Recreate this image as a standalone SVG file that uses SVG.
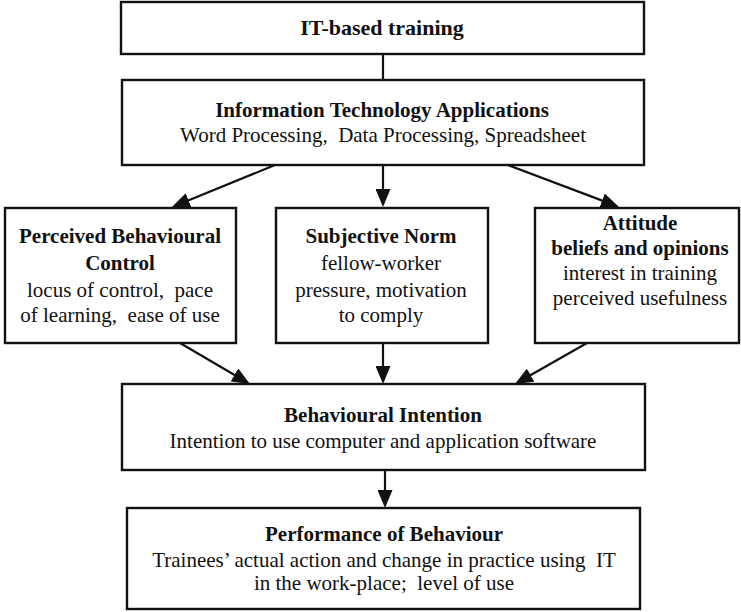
<svg xmlns="http://www.w3.org/2000/svg" width="741" height="612" viewBox="0 0 741 612">
<defs>
<style>
.box{fill:#fff;stroke:#111;stroke-width:2.4}
.ln{stroke:#111;stroke-width:2.2;fill:none}
.arr{marker-end:url(#ah)}
text{font-family:"Liberation Serif","Times New Roman",serif;font-size:21px;fill:#111;text-anchor:middle;white-space:pre}
.b{font-weight:bold}
</style>
<marker id="ah" markerUnits="userSpaceOnUse" markerWidth="18" markerHeight="15" refX="15" refY="7.5" orient="auto">
<path d="M0,0 L18,7.5 L0,15 z" fill="#111"/>
</marker>
</defs>
<rect width="741" height="612" fill="#fff"/>
<g id="connectors">
<line class="ln" x1="383" y1="54" x2="383" y2="80"/>
<line class="ln arr" x1="275" y1="165" x2="174.7" y2="205.9"/>
<line class="ln arr" x1="383" y1="165" x2="383" y2="204"/>
<line class="ln arr" x1="508" y1="165" x2="616.2" y2="205.9"/>
<line class="ln arr" x1="180" y1="343" x2="247.4" y2="382.5"/>
<line class="ln arr" x1="383" y1="343" x2="383" y2="381"/>
<line class="ln arr" x1="587" y1="343" x2="517.6" y2="382.5"/>
<line class="ln arr" x1="385" y1="470" x2="385" y2="505"/>
</g>
<g id="it-training">
<rect class="box" x="121" y="2" width="523" height="52"/>
<text class="b" x="382" y="35" style="font-size:22px">IT-based training</text>
</g>
<g id="it-applications">
<rect class="box" x="122" y="80" width="522" height="85"/>
<text class="b" x="382" y="117">Information Technology Applications</text>
<text x="383" y="142" xml:space="preserve">Word Processing,  Data Processing, Spreadsheet</text>
</g>
<g id="perceived-control">
<rect class="box" x="5" y="208" width="231" height="135"/>
<text class="b" x="120" y="243">Perceived Behavioural</text>
<text class="b" x="120" y="270">Control</text>
<text x="120" y="297" xml:space="preserve">locus of control,  pace</text>
<text x="120" y="322" xml:space="preserve">of learning,  ease of use</text>
</g>
<g id="subjective-norm">
<rect class="box" x="276" y="208" width="212" height="135"/>
<text class="b" x="381" y="243">Subjective Norm</text>
<text x="381" y="270">fellow-worker</text>
<text x="381" y="297">pressure, motivation</text>
<text x="381" y="322">to comply</text>
</g>
<g id="attitude">
<rect class="box" x="535" y="208" width="204" height="135"/>
<text class="b" x="640" y="230">Attitude</text>
<text class="b" x="640" y="255">beliefs and opinions</text>
<text x="640" y="280">interest in training</text>
<text x="640" y="305">perceived usefulness</text>
</g>
<g id="behavioural-intention">
<rect class="box" x="122" y="384" width="523" height="86"/>
<text class="b" x="383" y="422">Behavioural Intention</text>
<text x="383" y="448">Intention to use computer and application software</text>
</g>
<g id="performance">
<rect class="box" x="127" y="508" width="513" height="101"/>
<text class="b" x="384" y="541">Performance of Behaviour</text>
<text x="384" y="567" xml:space="preserve">Trainees’ actual action and change in practice using  IT</text>
<text x="384" y="590" xml:space="preserve">in the work-place;  level of use</text>
</g>
</svg>
